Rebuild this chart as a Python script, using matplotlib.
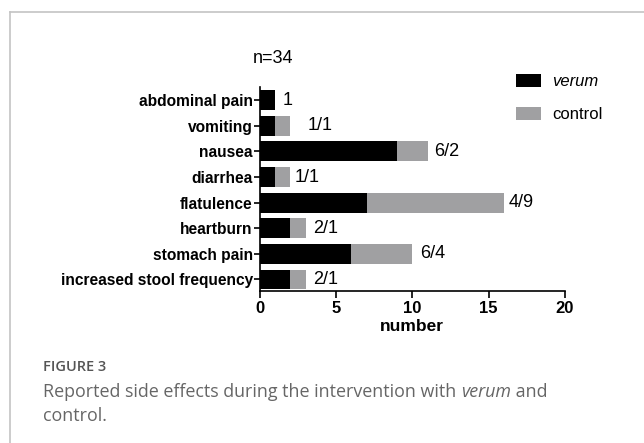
import matplotlib
matplotlib.use("Agg")
import matplotlib.pyplot as plt
from matplotlib.patches import Patch
from matplotlib.lines import Line2D

# ---- data ----
categories = ["abdominal pain", "vomiting", "nausea", "diarrhea",
              "flatulence", "heartburn", "stomach pain", "increased stool frequency"]
verum = [1, 1, 9, 1, 7, 2, 6, 2]
control = [0, 1, 2, 1, 9, 1, 4, 1]
bar_labels = ["1", "1/1", "6/2", "1/1", "4/9", "2/1", "6/4", "2/1"]
x_ticks = [0, 5, 10, 15, 20]

# label offsets in pixels (layout only)
label_pad = [8, 17, 7, 4, 5, 8, 8, 8]

plt.rcParams['font.family'] = ['Liberation Sans', 'DejaVu Sans']

fig = plt.figure(figsize=(6.44, 4.43), dpi=100)
ax = fig.add_axes([0.4033, 0.3431, 0.4740, 0.4612])

black = "#000000"
grey = "#a0a0a2"
ypos = list(range(len(categories)))
h = 0.78
ax.barh(ypos, verum, height=h, color=black, label="verum")
ax.barh(ypos, control, left=verum, height=h, color=grey, label="control")

for i, (v, c, lab) in enumerate(zip(verum, control, bar_labels)):
    ax.annotate(lab, xy=(v + c, i), xytext=(label_pad[i] * 0.72, 0),
                textcoords="offset points", va="center", ha="left",
                fontsize=13)

ax.set_ylim(7.45, -0.53)
ax.set_xlim(0, 20)
ax.set_yticks(ypos)
ax.set_yticklabels(categories, fontsize=11.2, fontweight="bold")
ax.set_xticks(x_ticks)
ax.set_xticklabels([str(t) for t in x_ticks], fontsize=12, fontweight="bold")
ax.set_xlabel("number", fontsize=12.5, fontweight="bold", labelpad=2)

for s in ["top", "right"]:
    ax.spines[s].set_visible(False)
for s in ["left", "bottom"]:
    ax.spines[s].set_linewidth(1.2)
ax.tick_params(axis="y", length=4, width=1.2, pad=1)
ax.tick_params(axis="x", length=5, width=1.2, pad=2)

# title-like n
fig.text(252.7 / 644, 1 - 58.3 / 443, "n=34", fontsize=13, ha="left", va="center")

# legend
handles = [Patch(facecolor=black, edgecolor="none"),
           Patch(facecolor=grey, edgecolor="none")]
leg = fig.legend(handles, ["verum", "control"], loc="upper left",
                 bbox_to_anchor=(516 / 644, 1 - 74 / 443), frameon=False,
                 fontsize=12, handlelength=1.5, handleheight=0.85,
                 handletextpad=0.65, labelspacing=1.05, borderpad=0,
                 borderaxespad=0)
leg.get_texts()[0].set_fontstyle("italic")

# frame lines (left and top)
fig.add_artist(Line2D([10 / 644, 10 / 644], [0, 1 - 12 / 443],
                      transform=fig.transFigure, color="#c4c4c4", lw=1.2))
fig.add_artist(Line2D([10 / 644, 1], [1 - 12 / 443, 1 - 12 / 443],
                      transform=fig.transFigure, color="#c4c4c4", lw=1.2))

# caption
cap_font = ['Open Sans', 'DejaVu Sans']
cap_size = 12.9
cap_color = "#666666"
cap_x = 43.0
fig.text(cap_x / 644, 1 - 367 / 443, "FIGURE 3", fontsize=10.5, color="#555555",
         family=cap_font, fontweight="semibold", va="center", ha="left")

renderer = fig.canvas.get_renderer()
pieces = [("Reported side effects during the intervention with ", "normal"),
          ("verum", "italic"),
          (" and", "normal")]
x0 = cap_x
for txt, style in pieces:
    t = fig.text(x0 / 644, 1 - 392 / 443, txt, fontsize=cap_size, color=cap_color,
                 family=cap_font, style=style, va="center", ha="left")
    bb = t.get_window_extent(renderer=renderer)
    x0 += bb.width
fig.text(cap_x / 644, 1 - 416 / 443, "control.", fontsize=cap_size, color=cap_color,
         family=cap_font, va="center", ha="left")

fig.savefig("out.png", dpi=100)
